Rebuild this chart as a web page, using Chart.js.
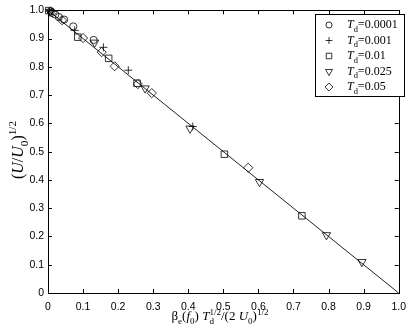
<!DOCTYPE html>
<html>
<head>
<meta charset="utf-8">
<script src="https://cdn.jsdelivr.net/npm/chart.js@4.4.0/dist/chart.umd.min.js"></script>
<style>
  html, body { margin: 0; padding: 0; background: #fff; }
</style>
</head>
<body>
<canvas id="myChart" width="414" height="331"></canvas>
<script>
// tick values on both axes
const xTicks = [0, 0.1, 0.2, 0.3, 0.4, 0.5, 0.6, 0.7, 0.8, 0.9, 1];
const yTicks = [0, 0.1, 0.2, 0.3, 0.4, 0.5, 0.6, 0.7, 0.8, 0.9, 1];

// reference line y = 1 - x
const fitLine = [[0, 1], [1, 0]];

const td0001 = [[0.008, 0.996], [0.021, 0.985], [0.031, 0.976], [0.046, 0.967], [0.072, 0.943], [0.13, 0.895]];
const td001 = [[0.004, 0.998], [0.076, 0.929], [0.158, 0.869], [0.229, 0.788], [0.413, 0.589]];
const td01 = [[0.002, 0.999], [0.085, 0.905], [0.173, 0.83], [0.254, 0.742], [0.503, 0.491], [0.724, 0.273]];
const td025 = [[0.006, 0.995], [0.133, 0.886], [0.277, 0.724], [0.405, 0.582], [0.603, 0.393], [0.794, 0.205], [0.895, 0.11]];
const td05 = [[0.012, 0.992], [0.04, 0.965], [0.1, 0.902], [0.153, 0.852], [0.19, 0.802], [0.256, 0.739], [0.296, 0.707], [0.571, 0.443]];

const seriesLabels = ["0.0001", "0.001", "0.01", "0.025", "0.05"];

const toXY = (arr) => arr.map((p) => ({ x: p[0], y: p[1] }));

const SERIF = '"Liberation Serif", "Times New Roman", serif';

// draws text made of pieces with sub/superscripts, returns width
function richText(ctx, parts, x, y, size, align, draw) {
  let w = 0;
  let held = 0;
  const pieces = [];
  parts.forEach((p) => {
    const sz = p.k === "n" || !p.k ? size : size * 0.7;
    ctx.font = `${p.i ? "italic " : ""}${sz}px ${SERIF}`;
    const pw = ctx.measureText(p.t).width;
    const dy = p.k === "b" ? size * 0.33 : p.k === "p" ? -size * 0.42 : 0;
    pieces.push({ t: p.t, font: ctx.font, x: w, dy: dy });
    if (p.hold) {
      held = pw;
    } else {
      w += Math.max(pw, held);
      held = 0;
    }
  });
  if (draw) {
    let x0 = x;
    if (align === "center") x0 = x - w / 2;
    ctx.textAlign = "left";
    ctx.textBaseline = "alphabetic";
    ctx.fillStyle = "#000";
    pieces.forEach((pc) => {
      ctx.font = pc.font;
      ctx.fillText(pc.t, x0 + pc.x, y + pc.dy);
    });
  }
  return w;
}

const xTitle = [
  { t: "β" }, { t: "e", k: "b" }, { t: "(" }, { t: "f", i: true }, { t: "0", k: "b" }, { t: ") " },
  { t: "T", i: true }, { t: "d", k: "b", hold: true }, { t: "1/2", k: "p" },
  { t: "/(2 " }, { t: "U", i: true }, { t: "0", k: "b" }, { t: ")" }, { t: "1/2", k: "p" },
];
const yTitle = [
  { t: "(" }, { t: "U", i: true }, { t: "/" }, { t: "U", i: true }, { t: "0", k: "b" }, { t: ")" }, { t: "1/2", k: "p" },
];

const markerStyles = [
  { pointStyle: "circle", radius: 3.6, rotation: 0 },
  { pointStyle: "cross", radius: 4, rotation: 0 },
  { pointStyle: "rect", radius: 4.6, rotation: 0 },
  { pointStyle: "triangle", radius: 4.8, rotation: 180 },
  { pointStyle: "rectRot", radius: 4.6, rotation: 0 },
];

const decorPlugin = {
  id: "decor",
  afterDraw(chart) {
    const ctx = chart.ctx;
    const a = chart.chartArea;
    const xs = chart.scales.x;
    const ys = chart.scales.y;
    ctx.save();
    ctx.strokeStyle = "#000";
    ctx.lineWidth = 1;
    // frame
    ctx.strokeRect(Math.round(a.left) + 0.5, Math.round(a.top) + 0.5, Math.round(a.right - a.left), Math.round(a.bottom - a.top));
    // inward ticks
    const tl = 4;
    ctx.beginPath();
    xTicks.forEach((v) => {
      const px = Math.round(xs.getPixelForValue(v)) + 0.5;
      ctx.moveTo(px, a.bottom); ctx.lineTo(px, a.bottom - tl);
      ctx.moveTo(px, a.top); ctx.lineTo(px, a.top + tl);
    });
    yTicks.forEach((v) => {
      const py = Math.round(ys.getPixelForValue(v)) + 0.5;
      ctx.moveTo(a.left, py); ctx.lineTo(a.left + tl, py);
      ctx.moveTo(a.right, py); ctx.lineTo(a.right - tl, py);
    });
    ctx.stroke();

    // axis titles
    richText(ctx, xTitle, 220, 320, 13, "center", true);
    ctx.translate(23, 150);
    ctx.rotate(-Math.PI / 2);
    richText(ctx, yTitle, 0, 0, 16, "center", true);
    ctx.setTransform(1, 0, 0, 1, 0, 0);

    // legend box
    const lx = 315, ly = 14, lw = 89, lh = 82;
    ctx.fillStyle = "#fff";
    ctx.fillRect(lx, ly, lw, lh);
    ctx.strokeStyle = "#000";
    ctx.strokeRect(lx + 0.5, ly + 0.5, lw, lh);
    seriesLabels.forEach((lab, i) => {
      const cy = 25 + i * 15.5;
      const m = markerStyles[i];
      ctx.lineWidth = 0.8;
      ctx.strokeStyle = "#000";
      ctx.fillStyle = "rgba(0,0,0,0)";
      Chart.helpers.drawPoint(ctx, { pointStyle: m.pointStyle, radius: m.radius * 0.85, rotation: m.rotation, borderWidth: 0.8 }, 329, cy);
      richText(ctx, [{ t: "T", i: true }, { t: "d", k: "b" }, { t: "=" + lab }], 347, cy + 3, 12, "left", true);
    });
    ctx.restore();
  },
};

function makeSeries(data, i) {
  const m = markerStyles[i];
  return {
    label: "Td=" + seriesLabels[i],
    data: toXY(data),
    showLine: false,
    pointStyle: m.pointStyle,
    pointRadius: m.radius,
    pointRotation: m.rotation,
    pointBorderWidth: 0.8,
    borderColor: "#000",
    pointBorderColor: "#000",
    pointBackgroundColor: "rgba(0,0,0,0)",
    backgroundColor: "rgba(0,0,0,0)",
    clip: false,
  };
}

const tickFont = { family: '"Liberation Sans", Arial, sans-serif', size: 10.5 };

new Chart(document.getElementById("myChart"), {
  type: "scatter",
  data: {
    datasets: [
      makeSeries(td0001, 0),
      makeSeries(td001, 1),
      makeSeries(td01, 2),
      makeSeries(td025, 3),
      makeSeries(td05, 4),
      {
        label: "fit",
        data: toXY(fitLine),
        showLine: true,
        pointRadius: 0,
        borderColor: "#222",
        borderWidth: 1,
        order: 10,
      },
    ],
  },
  options: {
    responsive: false,
    animation: false,
    devicePixelRatio: 1,
    layout: { padding: { top: 10, right: 8, left: 0, bottom: 0 } },
    plugins: { legend: { display: false }, tooltip: { enabled: false } },
    scales: {
      x: {
        type: "linear",
        min: 0,
        max: 1,
        grid: { display: false, drawTicks: false },
        border: { display: false },
        ticks: { color: "#000", font: tickFont, padding: 8, maxRotation: 0 },
        afterBuildTicks: (s) => { s.ticks = xTicks.map((v) => ({ value: v })); },
        afterFit: (s) => { s.height = 38; },
      },
      y: {
        type: "linear",
        min: 0,
        max: 1,
        grid: { display: false, drawTicks: false },
        border: { display: false },
        ticks: { color: "#000", font: tickFont, padding: 4 },
        afterBuildTicks: (s) => { s.ticks = yTicks.map((v) => ({ value: v })); },
        afterFit: (s) => { s.width = 48; },
      },
    },
  },
  plugins: [decorPlugin],
});
</script>
</body>
</html>
